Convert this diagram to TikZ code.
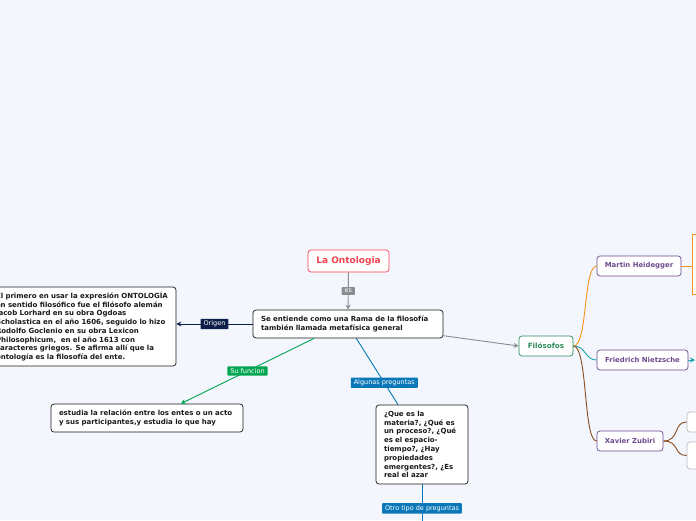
\documentclass[tikz,border=0pt]{standalone}
\usepackage{fontspec}
\setmainfont{DejaVu Sans}
\usetikzlibrary{arrows.meta}
\definecolor{bg}{HTML}{F3F6FD}
\definecolor{ontored}{HTML}{F2424E}
\definecolor{greyline}{HTML}{8A8C90}
\definecolor{navy}{HTML}{0C1F4A}
\definecolor{funcgreen}{HTML}{00A651}
\definecolor{askblue}{HTML}{0A78B8}
\definecolor{filogreen}{HTML}{2A8C5A}
\definecolor{heidorange}{HTML}{F7941D}
\definecolor{nietzteal}{HTML}{1AA5B0}
\definecolor{zubbrown}{HTML}{8B4A1C}
\definecolor{filpurple}{HTML}{6E4A8E}
\definecolor{boxgrey}{HTML}{BDBDBD}
\definecolor{ink}{HTML}{1A1A1A}
\tikzset{
  topic/.style={draw=ink, rounded corners=3pt, fill=white, line width=0.7pt, text=ink,
    font=\fontsize{7}{9}\selectfont\bfseries, align=left},
  person/.style={topic, draw=filpurple, text=filpurple, align=center,
    font=\fontsize{6.9}{8}\selectfont\bfseries, minimum height=20pt, inner sep=2pt},
  tag/.style={fill=#1, text=white, font=\fontsize{6.5}{7}\selectfont,
    inner xsep=3pt, inner ysep=2pt, rounded corners=0.8pt},
  link/.style={line width=0.9pt},
  >={Stealth[length=5pt,width=5pt]}
}
\begin{document}
\begin{tikzpicture}[x=1pt,y=-1pt]
\fill[bg] (0,0) rectangle (696,520);
\useasboundingbox (0,0) rectangle (696,520);

% central topic
\node[topic, draw=ontored, text=ontored, align=center, font=\fontsize{9}{10}\selectfont\bfseries,
  minimum width=81pt, minimum height=22pt, inner sep=2pt] (onto) at (348.5,261) {La Ontologia};
\node[topic, text width=174pt, inner xsep=8pt, minimum height=28pt] (rama) at (348,324)
  {Se entiende como una Rama de la filosofía\\también llamada metafísica general};

% main branches
\node[topic, text width=172pt, inner xsep=8pt, minimum height=79pt,
  font=\fontsize{7}{8.7}\selectfont\bfseries] (hist) at (82,326.5)
  {El primero en usar la expresión ONTOLOGÍA\\en sentido filosófico fue el filósofo alemán\\Jacob Lorhard en su obra Ogdoas\\Scholastica en el año 1606, seguido lo hizo\\Rodolfo Goclenio en su obra Lexicon\\Philosophicum,\ \ en el año 1613 con\\caracteres griegos. Se afirma allí que la\\ontología es la filosofía del ente.};
\node[topic, text width=176pt, inner xsep=8pt, minimum height=28pt] (est) at (147,418)
  {estudia la relación entre los entes o un acto\\y sus participantes,y estudia lo que hay};
\node[topic, text width=76pt, inner xsep=8pt, minimum height=79pt,
  font=\fontsize{7}{8.8}\selectfont\bfseries] (quest) at (422,444.5)
  {¿Que es la\\materia?, ¿Qué es\\un proceso?, ¿Qué\\es el espacio-\\tiempo?, ¿Hay\\propiedades\\emergentes?, ¿Es\\real el azar};
\node[topic, draw=filogreen, text=filogreen, align=center, font=\fontsize{7.2}{8}\selectfont\bfseries,
  minimum width=54pt, minimum height=20pt, inner sep=2pt] (filo) at (546,346) {Filósofos};

% filosofos
\node[person, minimum width=84pt] (heid) at (639,266) {Martin Heidegger};
\node[person, minimum width=91pt] (nietz) at (642.5,360) {Friedrich Nietzsche};
\node[person, minimum width=66pt] (zub) at (630,441) {Xavier Zubiri};
\node[draw=heidorange, fill=white, line width=0.9pt, minimum width=80pt, minimum height=60pt] (heidbox) at (732,264) {};
\coordinate (nietzend) at (695,360);
\node[topic, draw=boxgrey, minimum width=60pt, minimum height=20pt] (zubone) at (717,422) {};
\node[topic, draw=boxgrey, minimum width=60pt, minimum height=27pt] (zubtwo) at (717,455.5) {};

% connectors
\draw[link, greyline, ->] (onto) -- node[tag=greyline] {es} (rama);
\draw[link, navy, ->] (rama.west) -- node[tag=navy] {Origen} (rama.west -| hist.east);
\draw[link, funcgreen, ->] (rama.203) -- node[tag=funcgreen] {Su funcion} (est.23);
\draw[link, askblue] (rama.-60) -- node[tag=askblue, pos=0.67] {Algunas preguntas} (quest.121);
\draw[link, askblue] (quest.south) -- ++(0,40) node[tag=askblue, pos=0.6] {Otro tipo de preguntas};
\draw[link, greyline, ->] (rama.-7) -- (filo.west);

\draw[link, heidorange] (filo.east) .. controls (588,346) and (583,266) .. (heid.west);
\draw[link, nietzteal] (filo.east) .. controls (586,346) and (585,360) .. (nietz.west);
\draw[link, zubbrown] (filo.east) .. controls (588,346) and (583,441) .. (zub.west);
\draw[link, heidorange] (heid.east) -- (heid.east -| heidbox.west);
\draw[link, nietzteal, ->] (nietz.east) -- (nietzend);
\draw[link, zubbrown] (zub.east) .. controls (680,441) and (673,422) .. (zubone.west);
\draw[link, zubbrown] (zub.east) .. controls (680,441) and (673,455.5) .. (zubtwo.west);
\end{tikzpicture}
\end{document}
